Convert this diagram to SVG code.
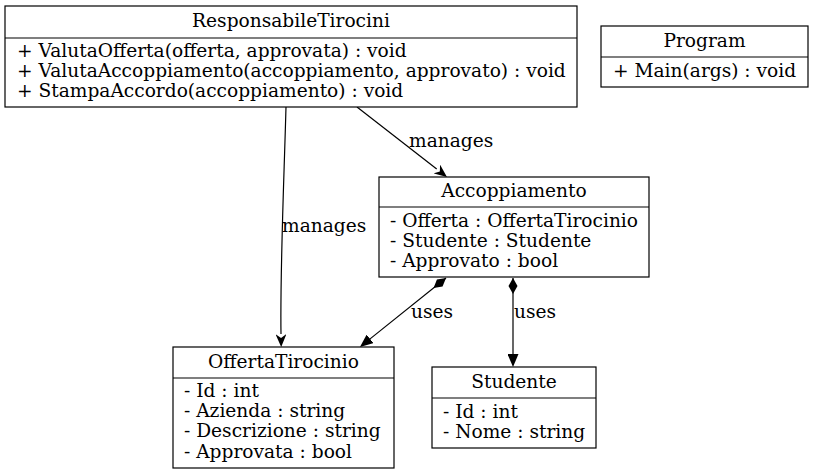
<svg xmlns="http://www.w3.org/2000/svg" width="813" height="475" viewBox="0 0 813 475">
<style>
text{font-family:"DejaVu Serif",serif;font-size:18.6px;fill:#000}
.t{text-anchor:middle}
.box{fill:#fff;stroke:#000;stroke-width:1.2}
.div{stroke:#000;stroke-width:1.2}
.e{fill:none;stroke:#000;stroke-width:1.2}
</style>
<defs>
<marker id="vee" markerUnits="userSpaceOnUse" viewBox="0 0 13 11" markerWidth="13" markerHeight="11" refX="0" refY="5.5" orient="auto"><path d="M0,0 L13,5.5 L0,11 L4,5.5 z" fill="#000"/></marker>
<marker id="arr" markerUnits="userSpaceOnUse" viewBox="0 0 13 11" markerWidth="13" markerHeight="11" refX="0" refY="5.5" orient="auto"><path d="M0,0 L13,5.5 L0,11 z" fill="#000"/></marker>
<marker id="dia" markerUnits="userSpaceOnUse" viewBox="0 0 16 10" markerWidth="16" markerHeight="10" refX="0" refY="5" orient="auto"><path d="M0,5 L8,0.5 L16,5 L8,9.5 z" fill="#000"/></marker>
</defs>
<rect width="813" height="475" fill="#fff"/>
<g id="edges">
<path class="e" d="M286,107 C284,180 280,270 281,334" marker-end="url(#vee)"/>
<text x="282" y="232">manages</text>
<path class="e" d="M357,107 L436.7,169" marker-end="url(#vee)"/>
<text x="409" y="147">manages</text>
<path class="e" d="M446,278 L370.1,338.9" marker-start="url(#dia)" marker-end="url(#arr)"/>
<text x="411" y="318">uses</text>
<path class="e" d="M513,278 L513,354" marker-start="url(#dia)" marker-end="url(#arr)"/>
<text x="514" y="318">uses</text>
</g>
<g id="ResponsabileTirocini">
<rect class="box" x="5" y="6" width="572" height="101"/>
<line class="div" x1="5" y1="38" x2="577" y2="38"/>
<text class="t" x="291" y="27">ResponsabileTirocini</text>
<text x="17" y="57">+ ValutaOfferta(offerta, approvata) : void</text>
<text x="17" y="77">+ ValutaAccoppiamento(accoppiamento, approvato) : void</text>
<text x="17" y="97">+ StampaAccordo(accoppiamento) : void</text>
</g>
<g id="Program">
<rect class="box" x="601" y="26" width="207" height="61"/>
<line class="div" x1="601" y1="57" x2="808" y2="57"/>
<text class="t" x="704.5" y="47">Program</text>
<text x="613" y="77">+ Main(args) : void</text>
</g>
<g id="Accoppiamento">
<rect class="box" x="379" y="177" width="270" height="100"/>
<line class="div" x1="379" y1="207" x2="649" y2="207"/>
<text class="t" x="514" y="197">Accoppiamento</text>
<text x="390" y="227">- Offerta : OffertaTirocinio</text>
<text x="390" y="247">- Studente : Studente</text>
<text x="390" y="267">- Approvato : bool</text>
</g>
<g id="OffertaTirocinio">
<rect class="box" x="173" y="347" width="221" height="121"/>
<line class="div" x1="173" y1="378" x2="394" y2="378"/>
<text class="t" x="283.5" y="368">OffertaTirocinio</text>
<text x="184" y="397">- Id : int</text>
<text x="184" y="417">- Azienda : string</text>
<text x="184" y="437">- Descrizione : string</text>
<text x="184" y="458">- Approvata : bool</text>
</g>
<g id="Studente">
<rect class="box" x="432" y="367" width="164" height="81"/>
<line class="div" x1="432" y1="398" x2="596" y2="398"/>
<text class="t" x="514" y="388">Studente</text>
<text x="443" y="418">- Id : int</text>
<text x="443" y="438">- Nome : string</text>
</g>
</svg>
